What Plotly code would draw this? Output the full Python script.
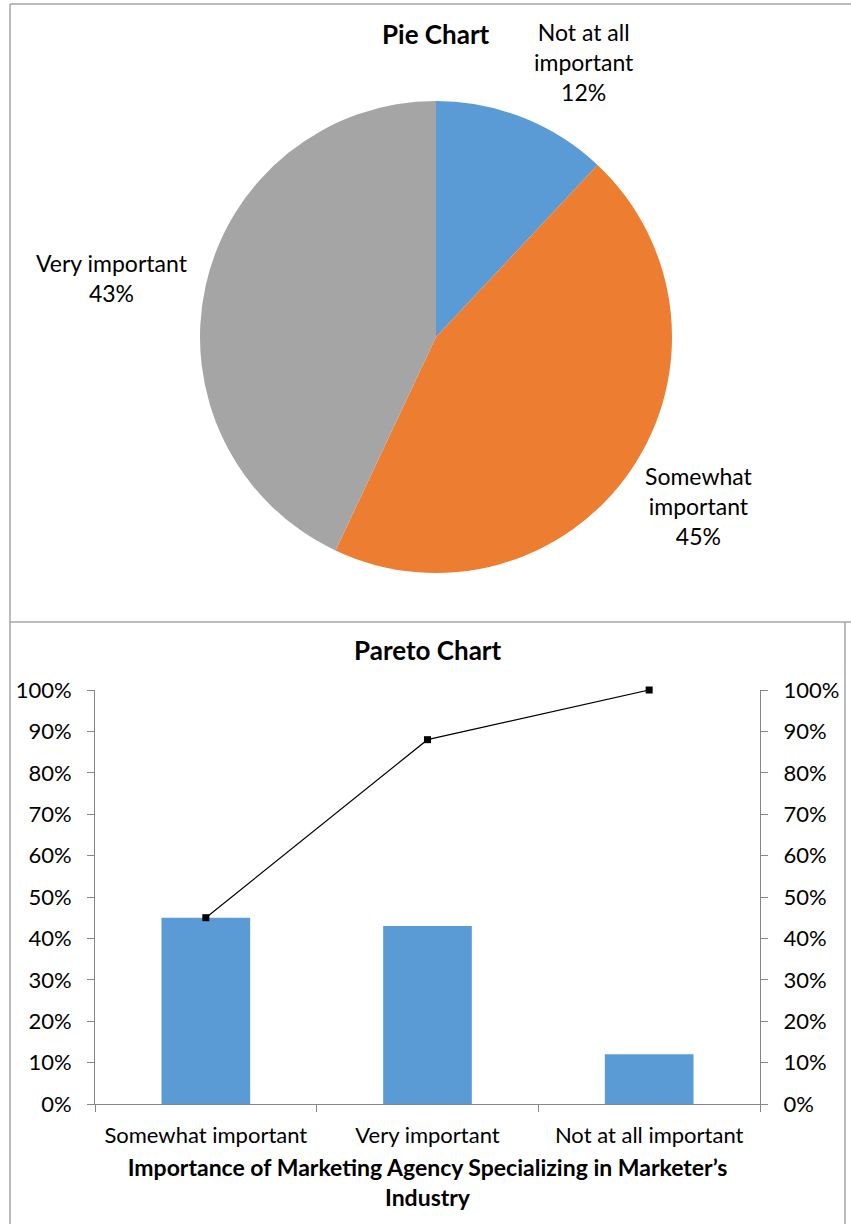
import plotly.graph_objects as go

W, H = 851, 1224

pie_labels = ["Not at all important", "Somewhat important", "Very important"]
pie_values = [12, 45, 43]
pie_colors = ["#5B9BD5", "#ED7D31", "#A5A5A5"]
pie_text = ["Not at all<br>important<br>12%", "Somewhat<br>important<br>45%", "Very important<br>43%"]

pareto_cats = ["Somewhat important", "Very important", "Not at all important"]
pareto_pct = [0.45, 0.43, 0.12]
pareto_cum = [0.45, 0.88, 1.00]

FONT = "Lato"
TXT = "#000000"
FS = 23
YFS = 22

def px(x):
    return x / W

def py(y):
    return 1 - y / H

fig = go.Figure()

fig.add_trace(go.Pie(
    labels=pie_labels, values=pie_values, sort=False, direction="clockwise", rotation=0,
    marker=dict(colors=pie_colors, line=dict(width=0)), textinfo="none", hoverinfo="label+percent",
    domain=dict(x=[px(200), px(672)], y=[py(573), py(101)]), showlegend=False,
))

fig.add_trace(go.Bar(
    x=pareto_cats, y=pareto_pct, marker=dict(color="#5B9BD5", line=dict(width=0)),
    width=0.4, xaxis="x", yaxis="y", showlegend=False,
))
fig.add_trace(go.Scatter(
    x=pareto_cats, y=pareto_cum, mode="lines+markers", cliponaxis=False,
    line=dict(color="#000000", width=1.2), marker=dict(symbol="square", size=7, color="#000000"),
    xaxis="x", yaxis="y2", showlegend=False,
))

axis_color = "#868686"
yax = dict(domain=[py(1104), py(690)], range=[0, 1], dtick=0.1, tickformat=".0%",
           showgrid=False, showline=True, linecolor=axis_color, ticks="outside", ticklen=7,
           tickcolor=axis_color, tickfont=dict(size=YFS), zeroline=False, automargin=False,
           ticklabelstandoff=11, fixedrange=True)
fig.update_layout(
    width=W, height=H, margin=dict(l=0, r=0, t=0, b=0, pad=0, autoexpand=False),
    paper_bgcolor="white", plot_bgcolor="white",
    font=dict(family=FONT, size=FS, color=TXT),
    xaxis=dict(domain=[px(95), px(760)], showgrid=False, showline=True, linecolor=axis_color,
               linewidth=1, ticks="outside", tickson="boundaries", ticklen=7, tickcolor=axis_color,
               tickfont=dict(size=22), tickangle=0, fixedrange=True, automargin=False,
               ticklabelstandoff=12,
               title=dict(text="<b>Importance of Marketing Agency Specializing in Marketer’s<br>Industry</b>",
                          font=dict(size=FS), standoff=12)),
    yaxis=yax,
    yaxis2=dict(yax, overlaying="y", side="right", anchor="x"),
)

annotations = [
    dict(text="<b>Pie Chart</b>", x=px(436), y=py(34), font=dict(size=26)),
    dict(text="<b>Pareto Chart</b>", x=px(428), y=py(650), font=dict(size=26)),
    dict(text=pie_text[0], x=px(584), y=py(62)),
    dict(text=pie_text[1], x=px(699), y=py(506)),
    dict(text=pie_text[2], x=px(112), y=py(278)),
]
for a in annotations:
    a.update(xref="paper", yref="paper", showarrow=False, xanchor="center", yanchor="middle")
    a.setdefault("font", dict(size=FS))
    fig.add_annotation(**a)

border = dict(color="#A6A6A6", width=1.5)
shapes = [
    dict(type="line", x0=px(10), x1=1, y0=py(4), y1=py(4)),
    dict(type="line", x0=px(10), x1=px(10), y0=py(4), y1=0),
    dict(type="line", x0=px(10), x1=1, y0=py(622), y1=py(622)),
    dict(type="line", x0=px(845), x1=px(845), y0=py(622), y1=0),
]
for s in shapes:
    fig.add_shape(xref="paper", yref="paper", line=border, **s)

fig.write_html("out.html", config={"displayModeBar": False},
               post_script="document.body.style.margin='0';document.body.style.overflow='hidden';")
